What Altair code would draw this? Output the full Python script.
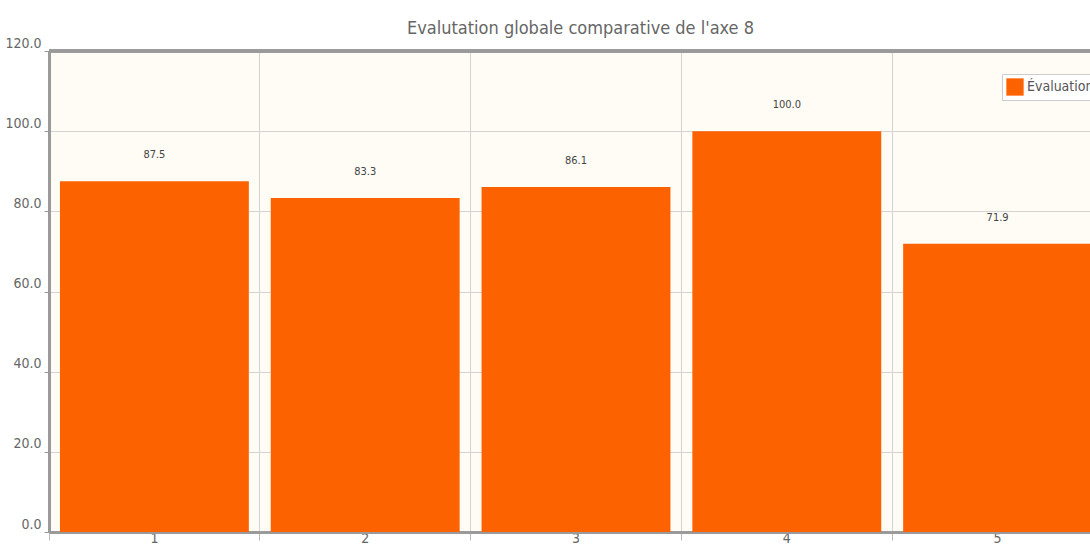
import altair as alt
import pandas as pd

categories = ["1", "2", "3", "4", "5"]
values = [87.5, 83.3, 86.1, 100.0, 71.9]
series_name = "Évaluation n°1"
title_text = "Evalutation globale comparative de l'axe 8"

df = pd.DataFrame({"cat": categories, "val": values, "serie": [series_name] * len(categories)})

FONT = "DejaVu Sans Condensed"
W, H = 1041, 481
STEP_RANGE = 1054

xscale = alt.Scale(domain=categories, range=[0, STEP_RANGE], paddingInner=0, paddingOuter=0)
yscale = alt.Scale(domain=[0, 120], nice=False)

bars = alt.Chart(df).mark_bar(clip=True, width=alt.RelativeBandSize(0.896)).encode(
    x=alt.X("cat:N", scale=xscale, sort=categories,
            axis=alt.Axis(title=None, labelAngle=0, bandPosition=0,
                          grid=True, gridColor="#d3d3d3", gridWidth=1,
                          domain=True, domainColor="#9a9a9a", domainWidth=3,
                          ticks=True, tickColor="#bbbbbb", tickSize=8,
                          labelFont=FONT, labelFontSize=14, labelColor="#666666",
                          labelPadding=-9, labelBaseline="top")),
    y=alt.Y("val:Q", scale=yscale,
            axis=alt.Axis(title=None, values=[0, 20, 40, 60, 80, 100, 120], format=".1f",
                          grid=True, gridColor="#d3d3d3", gridWidth=1,
                          domain=True, domainColor="#9a9a9a", domainWidth=3,
                          ticks=True, tickColor="#9a9a9a", tickSize=5,
                          labelFont=FONT, labelFontSize=14, labelColor="#666666", labelPadding=3,
                          labelBaseline="alphabetic", labelOffset=-4)),
    color=alt.Color("serie:N", scale=alt.Scale(range=["#fd6200"]),
                    legend=alt.Legend(title=None, orient="none", legendX=953, legendY=23,
                                      symbolType="square", symbolSize=300, symbolStrokeWidth=0,
                                      labelFont=FONT, labelFontSize=14, labelColor="#555555",
                                      labelOffset=3,
                                      fillColor="#ffffff", strokeColor="#cccccc", padding=4)),
)

labels = alt.Chart(df).mark_text(dy=-26, font=FONT, fontSize=11, color="#444444", clip=True).encode(
    x=alt.X("cat:N", scale=xscale, sort=categories, bandPosition=0.5),
    y=alt.Y("val:Q", scale=yscale),
    text=alt.Text("val:Q", format=".1f"),
)

top_border = alt.Chart(df).mark_rule(color="#9a9a9a", strokeWidth=3).encode(
    y=alt.value(0), x=alt.value(0), x2=alt.value(W)
)

chart = alt.layer(bars, labels, top_border).properties(
    width=W, height=H,
    background="#ffffff",
    title=alt.TitleParams(title_text, font=FONT, fontSize=18, fontWeight="normal", color="#666666",
                          anchor="middle", offset=12, dx=11, dy=14),
    autosize=alt.AutoSizeParams(type="none"),
    padding={"left": 49, "top": 51, "right": 0, "bottom": 13},
).configure_view(fill="#fffcf5", stroke=None)

chart.save("out.html", embed_options={"renderer": "svg", "actions": False})
